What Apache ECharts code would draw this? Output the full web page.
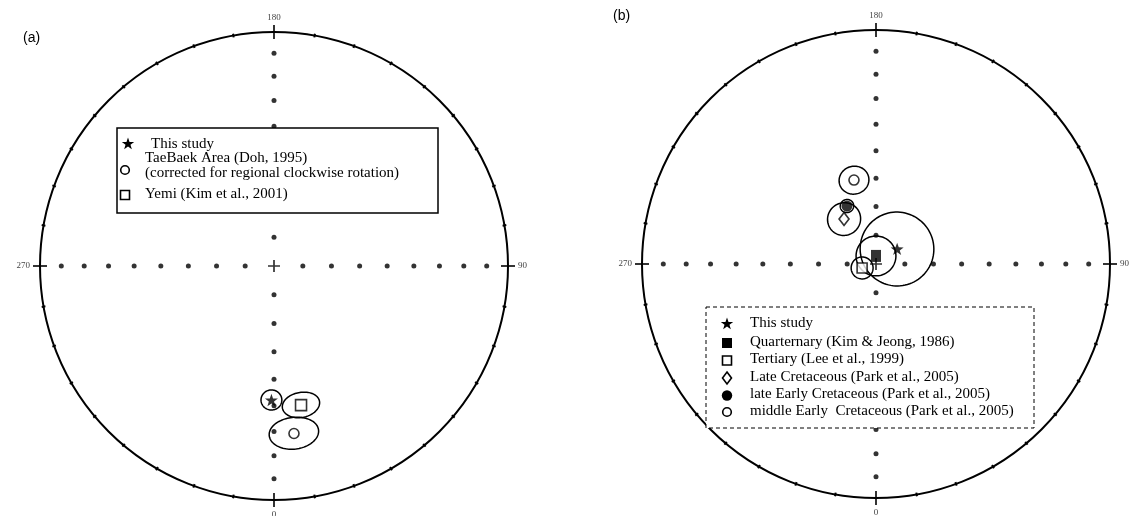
<!DOCTYPE html>
<html>
<head>
<meta charset="utf-8">
<script src="https://cdn.jsdelivr.net/npm/echarts@6/dist/echarts.min.js"></script>
<style>
  html, body { margin: 0; padding: 0; background: #fff; }
  #chart { width: 1137px; height: 516px; }
</style>
</head>
<body>
<div id="chart"></div>
<script>
// Inclination marks along the diameters (degrees) and the cardinal declinations
const incMarks = [10, 20, 30, 40, 50, 60, 70, 80];
const cardinalDecs = [0, 90, 180, 270];
const cardinalLabels = ['0', '90', '180', '270'];

// (a) mean directions with their confidence ovals (dp along inclination, dm across)
const namesA = ['This study', 'TaeBaek Area (Doh, 1995)', 'Yemi (Kim et al., 2001)'];
const decA = [358.9, 6.8, 11.0];
const incA = [42.2, 28.7, 39.3];
const dpA = [3.8, 6.4, 4.8];
const dmA = [3.3, 7.4, 5.9];

// (b) mean directions with alpha95 circles
const namesB = [
  'This study',
  'Quarternary (Kim & Jeong, 1986)',
  'Tertiary (Lee et al., 1999)',
  'Late Cretaceous (Park et al., 2005)',
  'late Early Cretaceous (Park et al., 2005)',
  'middle Early  Cretaceous (Park et al., 2005)'
];
const decB = [125.5, 180.0, 285.9, 215.4, 206.6, 194.7];
const incB = [81.0, 87.2, 85.0, 70.8, 67.4, 59.6];
const a95B = [12.8, 6.9, 3.8, 5.7, 2.3, 5.0];

const RAD = Math.PI / 180;
const SERIF = '"Liberation Serif", "Times New Roman", serif';
const STAR = 'path://M0,-10L2.35,-3.24L9.51,-3.09L3.8,1.24L5.88,8.09L0,4L-5.88,8.09L-3.8,1.24L-9.51,-3.09L-2.35,-3.24Z';
const CROSS = 'path://M-1,-7H1V7H-1Z M-7,-1H7V1H-7Z';

// Equal-area (Schmidt) radius, normalised so the primitive circle is 1
function eqArea(inc) {
  return Math.SQRT2 * Math.sin((90 - inc) / 2 * RAD);
}

// Outline of a confidence cone around (dec, inc), as [radius, declination] pairs
function ovalPoints(dec, inc, dp, dm) {
  const th = (90 - inc) * RAD, d = dec * RAD;
  const v = [Math.sin(th) * Math.cos(d), Math.sin(th) * Math.sin(d), Math.cos(th)];
  const e1 = [Math.cos(th) * Math.cos(d), Math.cos(th) * Math.sin(d), -Math.sin(th)];
  const e2 = [-Math.sin(d), Math.cos(d), 0];
  const ta = Math.tan(dp * RAD), tb = Math.tan(dm * RAD);
  const out = [];
  const n = 96;
  for (let k = 0; k < n; k++) {
    const t = 2 * Math.PI * k / n;
    const u1 = ta * Math.cos(t), u2 = tb * Math.sin(t);
    let p = [0, 1, 2].map(j => v[j] + u1 * e1[j] + u2 * e2[j]);
    const len = Math.hypot(p[0], p[1], p[2]);
    p = p.map(c => c / len);
    const colat = Math.acos(Math.max(-1, Math.min(1, p[2])));
    const az = Math.atan2(p[1], p[0]) / RAD;
    out.push([Math.SQRT2 * Math.sin(colat / 2), (az + 360) % 360]);
  }
  return out;
}

function ovalSeries(polarIndex, decs, incs, dps, dms) {
  return {
    type: 'custom', coordinateSystem: 'polar', polarIndex, z: 2, silent: true,
    data: decs.map((d, i) => [eqArea(incs[i]), d, incs[i], dps[i], dms[i]]),
    renderItem(params, api) {
      const pts = ovalPoints(api.value(1), api.value(2), api.value(3), api.value(4))
        .map(p => api.coord(p));
      return {
        type: 'polygon', shape: { points: pts },
        style: { fill: 'none', stroke: '#000', lineWidth: 1.5 }
      };
    }
  };
}

// Declination ticks across the primitive circle, longer at the cardinal points
const decTicks = [];
for (let d = 0; d < 360; d += 10) decTicks.push(d);

function frameSeries(polarIndex) {
  const dots = [];
  cardinalDecs.forEach(a => incMarks.forEach(i => dots.push([eqArea(i), a])));
  return [
    {
      type: 'custom', coordinateSystem: 'polar', polarIndex, z: 1, silent: true,
      data: decTicks.map(d => [1, d]),
      renderItem(params, api) {
        const d = api.value(1);
        const major = cardinalDecs.indexOf(d) >= 0;
        const h = major ? 0.03 : 0.008;
        const p1 = api.coord([1 - h, d]), p2 = api.coord([1 + h, d]);
        return {
          type: 'line', shape: { x1: p1[0], y1: p1[1], x2: p2[0], y2: p2[1] },
          style: { stroke: '#000', lineWidth: major ? 1.6 : 2 }
        };
      }
    },
    {
      type: 'scatter', coordinateSystem: 'polar', polarIndex, z: 1, silent: true,
      symbol: 'circle', symbolSize: 5, itemStyle: { color: '#000' },
      data: dots
    },
    {
      type: 'scatter', coordinateSystem: 'polar', polarIndex, z: 1, silent: true,
      symbol: CROSS, symbolSize: 12, itemStyle: { color: '#000' },
      data: [[0, 0]]
    }
  ];
}

const openStyle = { color: '#fff', borderColor: '#000', borderWidth: 1.6 };
const fillStyle = { color: '#000' };

const markA = [
  { symbol: STAR, size: 13, style: fillStyle },
  { symbol: 'circle', size: 10, style: openStyle },
  { symbol: 'rect', size: 11, style: openStyle }
];
const markB = [
  { symbol: STAR, size: 13, style: fillStyle },
  { symbol: 'rect', size: [10, 12], style: fillStyle },
  { symbol: 'rect', size: 10, style: openStyle },
  { symbol: 'diamond', size: [10, 13], style: openStyle },
  { symbol: 'circle', size: 11, style: fillStyle },
  { symbol: 'circle', size: 10, style: openStyle }
];

function pointSeries(polarIndex, names, decs, incs, marks) {
  return names.map((name, i) => ({
    name, type: 'scatter', coordinateSystem: 'polar', polarIndex, z: 3,
    symbol: marks[i].symbol, symbolSize: marks[i].size, symbolKeepAspect: true,
    itemStyle: marks[i].style,
    data: [[eqArea(incs[i]), decs[i]]]
  }));
}

function angleAxis(polarIndex) {
  return {
    polarIndex, type: 'value', min: 0, max: 360, interval: 10,
    startAngle: 270, clockwise: false,
    axisLine: { lineStyle: { color: '#000', width: 2 } },
    axisTick: { show: false },
    splitLine: { show: false },
    axisLabel: {
      margin: 10, color: '#444', fontFamily: SERIF, fontSize: 9,
      formatter: v => { const k = cardinalDecs.indexOf(v); return k >= 0 ? cardinalLabels[k] : ''; }
    }
  };
}

// Legend drawing helpers
function starPoints(cx, cy, r) {
  const pts = [];
  for (let k = 0; k < 10; k++) {
    const rr = k % 2 === 0 ? r : r * 0.4;
    const a = -Math.PI / 2 + k * Math.PI / 5;
    pts.push([cx + rr * Math.cos(a), cy + rr * Math.sin(a)]);
  }
  return pts;
}
function legendText(x, y, text) {
  return { type: 'text', z: 101, style: { x, y, text, fill: '#000', font: '15px ' + SERIF, textVerticalAlign: 'middle' } };
}
function legendIcon(kind, cx, cy) {
  const sw = { stroke: '#000', lineWidth: 1.6, fill: '#fff' };
  switch (kind) {
    case 'star': return { type: 'polygon', z: 101, shape: { points: starPoints(cx, cy, 6.5) }, style: { fill: '#000' } };
    case 'ocircle': return { type: 'circle', z: 101, shape: { cx, cy, r: 4.3 }, style: sw };
    case 'fcircle': return { type: 'circle', z: 101, shape: { cx, cy, r: 5.2 }, style: { fill: '#000' } };
    case 'osquare': return { type: 'rect', z: 101, shape: { x: cx - 4.5, y: cy - 4.5, width: 9, height: 9 }, style: sw };
    case 'fsquare': return { type: 'rect', z: 101, shape: { x: cx - 5, y: cy - 5, width: 10, height: 10 }, style: { fill: '#000' } };
    case 'diamond': return { type: 'polygon', z: 101, shape: { points: [[cx, cy - 6], [cx + 4.5, cy], [cx, cy + 6], [cx - 4.5, cy]] }, style: sw };
  }
}

const graphics = [
  { type: 'text', z: 101, style: { x: 23, y: 38, text: '(a)', fill: '#000', font: '14px "Liberation Sans", Arial, sans-serif', textVerticalAlign: 'middle' } },
  { type: 'text', z: 101, style: { x: 613, y: 16, text: '(b)', fill: '#000', font: '14px "Liberation Sans", Arial, sans-serif', textVerticalAlign: 'middle' } },
  // legend (a)
  { type: 'rect', z: 100, shape: { x: 117, y: 128, width: 321, height: 85 }, style: { fill: '#fff', stroke: '#000', lineWidth: 1.5 } },
  legendIcon('star', 128, 144),
  legendText(151, 143.8, namesA[0]),
  legendIcon('ocircle', 125, 170),
  legendText(145, 158.2, namesA[1]),
  legendText(145, 173, '(corrected for regional clockwise rotation)'),
  legendIcon('osquare', 125, 195),
  legendText(145, 193.8, namesA[2]),
  // legend (b)
  { type: 'rect', z: 100, shape: { x: 706, y: 307, width: 328, height: 121 }, style: { fill: '#fff', stroke: '#000', lineWidth: 1, lineDash: [4, 3] } }
];
const iconsB = ['star', 'fsquare', 'osquare', 'diamond', 'fcircle', 'ocircle'];
const rowsB = [323, 342, 359.5, 377, 394.5, 411];
namesB.forEach((n, i) => {
  graphics.push(legendIcon(iconsB[i], 727, rowsB[i] + 1));
  graphics.push(legendText(750, rowsB[i], n));
});

const chart = echarts.init(document.getElementById('chart'), null, { renderer: 'canvas' });
chart.setOption({
  animation: false,
  backgroundColor: '#fff',
  polar: [
    { center: [274, 266], radius: 234 },
    { center: [876, 264], radius: 234 }
  ],
  angleAxis: [angleAxis(0), angleAxis(1)],
  radiusAxis: [
    { polarIndex: 0, type: 'value', min: 0, max: 1, show: false },
    { polarIndex: 1, type: 'value', min: 0, max: 1, show: false }
  ],
  series: [
    ...frameSeries(0),
    ...frameSeries(1),
    ovalSeries(0, decA, incA, dpA, dmA),
    ovalSeries(1, decB, incB, a95B, a95B),
    ...pointSeries(0, namesA, decA, incA, markA),
    ...pointSeries(1, namesB, decB, incB, markB)
  ],
  graphic: graphics
});
</script>
</body>
</html>
